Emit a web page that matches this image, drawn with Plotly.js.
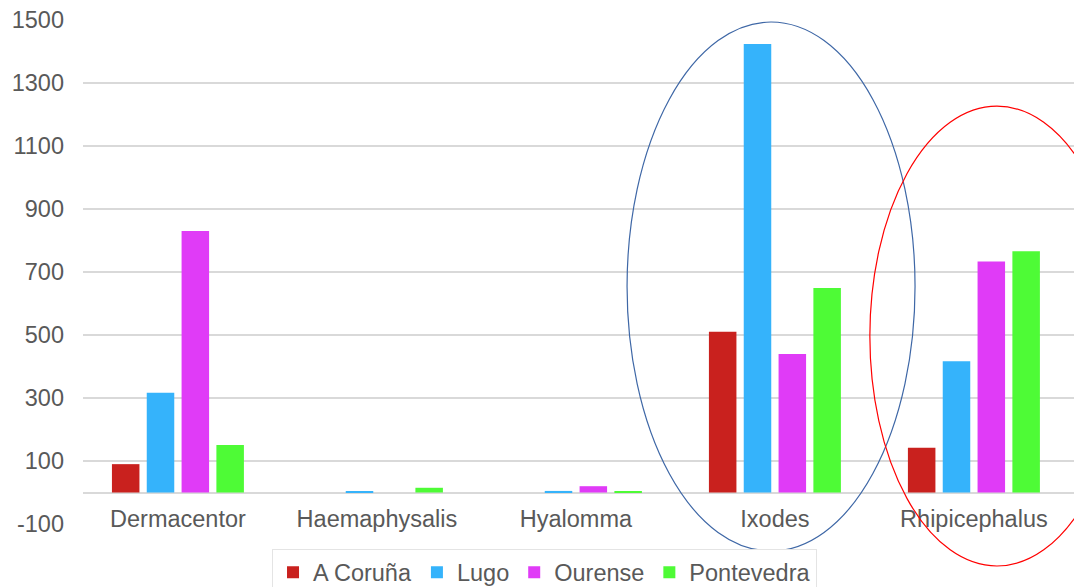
<!DOCTYPE html>
<html>
<head>
<meta charset="utf-8">
<script src="https://cdn.plot.ly/plotly-3.0.1.min.js"></script>
<style>html,body{margin:0;padding:0;background:#fff;}#chart{width:1074px;height:587px;}</style>
</head>
<body>
<div id="chart"></div>
<script>
const categories = ['Dermacentor', 'Haemaphysalis', 'Hyalomma', 'Ixodes', 'Rhipicephalus'];
const seriesNames = ['A Coruña', 'Lugo', 'Ourense', 'Pontevedra'];
const coruna = [90, 0, 0, 510, 142];
const lugo = [317, 2, 5, 1424, 417];
const ourense = [830, 0, 20, 440, 733];
const pontevedra = [151, 15, 2, 649, 766];
const yTicks = [-100, 100, 300, 500, 700, 900, 1100, 1300, 1500];

const colors = ['#C9211E', '#35B3FB', '#E03BF7', '#4EFB36'];
const values = [coruna, lugo, ourense, pontevedra];
const fontFam = 'Liberation Sans, Arial, sans-serif';
const fs = 23.5;

const traces = values.map((v, i) => ({
  type: 'bar',
  name: seriesNames[i],
  x: categories,
  y: v,
  marker: {color: colors[i]},
  hoverinfo: 'x+y+name'
}));

const layout = {
  width: 1074,
  height: 587,
  margin: {l: 83, r: 0, t: 20, b: 63, autoexpand: false},
  paper_bgcolor: '#ffffff',
  plot_bgcolor: '#ffffff',
  font: {family: fontFam, size: fs, color: '#595959'},
  barmode: 'group',
  bargap: 0.3,
  bargroupgap: 0.21,
  xaxis: {
    type: 'category',
    range: [-0.477, 4.503],
    anchor: 'free',
    position: 0.0625,
    showgrid: false,
    showline: false,
    zeroline: false,
    ticks: '',
    ticklabelstandoff: 10,
    automargin: false,
    tickfont: {family: fontFam, size: fs, color: '#595959'}
  },
  yaxis: {
    range: [-100, 1500],
    tickvals: yTicks,
    ticktext: yTicks.map(String),
    showgrid: true,
    gridcolor: '#d9d9d9',
    gridwidth: 1.5,
    zeroline: true,
    zerolinecolor: '#d9d9d9',
    zerolinewidth: 1.5,
    showline: false,
    ticks: '',
    automargin: false,
    ticklabelstandoff: 18,
    tickfont: {family: fontFam, size: fs, color: '#595959'}
  },
  legend: {
    orientation: 'h',
    xref: 'container',
    yref: 'container',
    x: 0.507,
    xanchor: 'center',
    y: 0.064,
    yanchor: 'top',
    bordercolor: '#e4e4e4',
    borderwidth: 1,
    bgcolor: '#ffffff',
    font: {family: fontFam, size: fs, color: '#595959'},
    itemclick: false
  },
  shapes: [
    {type: 'circle', xref: 'paper', yref: 'paper', x0: 0.549, x1: 0.8396, y0: -0.0536, y1: 0.996,
     line: {color: '#3E67A6', width: 1.2}, layer: 'above'},
    {type: 'circle', xref: 'paper', yref: 'paper', x0: 0.794, x1: 1.0505, y0: -0.0833, y1: 0.829,
     line: {color: '#FF0000', width: 1.2}, layer: 'above'}
  ]
};

Plotly.newPlot('chart', traces, layout, {displayModeBar: false, responsive: false});
</script>
</body>
</html>
